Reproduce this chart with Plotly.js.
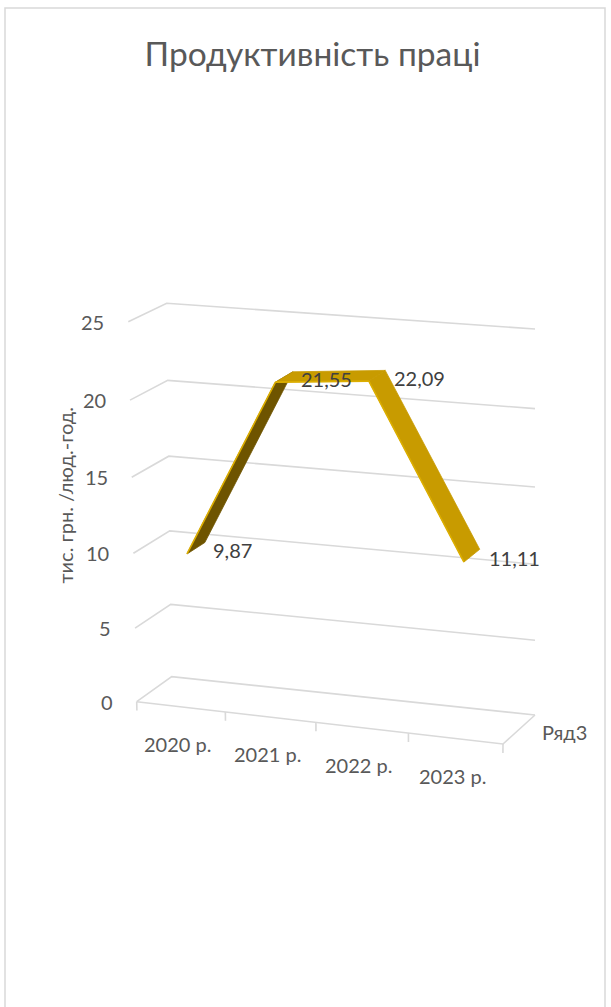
<!DOCTYPE html>
<html>
<head>
<meta charset="utf-8">
<script src="https://cdn.plot.ly/plotly-3.0.1.min.js"></script>
<style>html,body{margin:0;padding:0;background:#fff;}#chart{width:611px;height:1007px;}</style>
</head>
<body>
<div id="chart"></div>
<script>
// ---- data ----
const categories = ["2020 р.", "2021 р.", "2022 р.", "2023 р."];
const values = [9.87, 21.55, 22.09, 11.11];
const seriesName = "Ряд3";
const zTicks = [0, 5, 10, 15, 20, 25];
const chartTitle = "Продуктивність праці";
const yTitle = "тис. грн. /люд.-год.";

// ---- 3D-look projection (emulating Excel 3-D line chart) ----
const W = 611, H = 1007;
const zMax = zTicks[zTicks.length - 1];
const nCat = categories.length;
const box = {
  FLB: [136.7, 701.7], BLB: [171.7, 676.7], BRB: [535, 715], FRB: [503, 744],
  FLT: [128.3, 321.7], BLT: [166.7, 303.3], BRT: [535, 329], FRT: [506, 351]
};
const kx = 0.044, kz = 0.04;
const lerp = (a, b, t) => [a[0] + (b[0] - a[0]) * t, a[1] + (b[1] - a[1]) * t];
function P(x, d, z) {
  const u0 = (x + 0.5) / nCat, w0 = z / zMax, v = d + 0.5;
  const u = u0 / (1 + kx * (1 - u0));
  const w = w0 / (1 + kz * (1 - w0));
  const fb = lerp(box.FLB, box.FRB, u), bb = lerp(box.BLB, box.BRB, u);
  const ft = lerp(box.FLT, box.FRT, u), bt = lerp(box.BLT, box.BRT, u);
  const bot = lerp(fb, bb, v), top = lerp(ft, bt, v);
  return lerp(bot, top, w);
}

const gridColor = '#d9d9d9';
const txtColor = '#595959';
const fnt = "Lato, 'Noto Sans', sans-serif";
const topColor = '#c89b00', underColor = '#6e5400', edgeColor = '#dcae00';
const halfDepth = 0.25;

const traces = [];
function polyTrace(pts, color, width) {
  return {type: 'scatter', mode: 'lines', x: pts.map(p => p ? p[0] : null), y: pts.map(p => p ? p[1] : null),
    line: {color: color, width: width}, hoverinfo: 'skip', connectgaps: false};
}

// gridlines on left wall + back wall
const gridPts = [];
zTicks.forEach(t => {
  gridPts.push(P(-0.5, -0.5, t), P(-0.5, 0.5, t), P(nCat - 0.5, 0.5, t), null);
});
traces.push(polyTrace(gridPts, gridColor, 1.6));

// floor front edge, right edge and tick marks
const floorPts = [P(-0.5, -0.5, 0), P(nCat - 0.5, -0.5, 0), P(nCat - 0.5, 0.5, 0), null];
for (let b = 0; b <= nCat; b++) {
  floorPts.push(P(b - 0.5, -0.5, 0), P(b - 0.5, -0.5, -0.6), null);
}
traces.push(polyTrace(floorPts, gridColor, 1.6));

// ribbon segments built from the data
const xi = categories.map((c, i) => i);
const area = q => { let s = 0; for (let i = 0; i < q.length; i++) { const a = q[i], b = q[(i + 1) % q.length]; s += a[0] * b[1] - b[0] * a[1]; } return s; };
const segs = [];
for (let k = 0; k < nCat - 1; k++) {
  const q = [P(xi[k], -halfDepth, values[k]), P(xi[k + 1], -halfDepth, values[k + 1]),
             P(xi[k + 1], halfDepth, values[k + 1]), P(xi[k], halfDepth, values[k])];
  segs.push(q);
}
// reference orientation: a flat (top visible) ribbon
const refSign = Math.sign(area([P(0, -halfDepth, 1), P(1, -halfDepth, 1), P(1, halfDepth, 1), P(0, halfDepth, 1)]));
segs.forEach((q, k) => {
  const under = Math.sign(area(q)) !== refSign;
  const col = under ? underColor : topColor;
  traces.push({type: 'scatter', mode: 'lines', x: q.map(p => p[0]).concat([q[0][0]]), y: q.map(p => p[1]).concat([q[0][1]]),
    fill: 'toself', fillcolor: col, line: {color: col, width: 0.8}, hoverinfo: 'skip'});
  traces.push(polyTrace([q[0], q[1]], edgeColor, 1.6));
});

// ---- text ----
const fmt = v => v.toFixed(2).replace('.', ',');
const ann = [];
zTicks.forEach(t => { const p = P(-0.5, -0.5, t);
  ann.push({x: p[0], y: p[1], text: String(t), xanchor: 'right', yanchor: 'middle', xshift: -22,
    showarrow: false, font: {family: fnt, size: 20, color: txtColor}}); });
categories.forEach((c, i) => { const p = P(xi[i], -0.5, 0);
  ann.push({x: p[0], y: p[1], text: c, xanchor: 'center', yanchor: 'middle', xshift: -3, yshift: -37,
    showarrow: false, font: {family: fnt, size: 20, color: txtColor}}); });
values.forEach((v, i) => { const p = P(xi[i], 0, v);
  ann.push({x: p[0], y: p[1], text: fmt(v), xanchor: 'left', yanchor: 'middle', xshift: 15, yshift: -2,
    showarrow: false, font: {family: fnt, size: 20, color: '#404040'}}); });
{ const p = P(nCat - 0.5, 0, 0);
  ann.push({x: p[0], y: p[1], text: seriesName, xanchor: 'left', yanchor: 'middle', xshift: 21, yshift: -2.5,
    showarrow: false, font: {family: fnt, size: 20, color: txtColor}}); }
ann.push({xref: 'paper', yref: 'paper', x: 64 / W, y: 1 - 495.5 / H, text: yTitle, textangle: -90,
  xanchor: 'center', yanchor: 'middle', showarrow: false, font: {family: fnt, size: 20, color: txtColor}});

const layout = {
  width: W, height: H, margin: {l: 0, r: 0, t: 0, b: 0},
  paper_bgcolor: '#fff', plot_bgcolor: '#fff', showlegend: false, hovermode: false,
  title: {text: chartTitle, x: 312.5 / W, xanchor: 'center', y: 1 - 54 / H, yanchor: 'middle',
    font: {family: fnt, size: 33.5, color: txtColor}},
  xaxis: {range: [0, W], visible: false, fixedrange: true},
  yaxis: {range: [H, 0], visible: false, fixedrange: true},
  annotations: ann,
  shapes: [{type: 'rect', xref: 'paper', yref: 'paper', x0: 5 / W, x1: 605 / W, y0: -0.01, y1: 1 - 8 / H,
    line: {color: gridColor, width: 1.5}, fillcolor: 'rgba(0,0,0,0)'}]
};

Plotly.newPlot('chart', traces, layout, {displayModeBar: false, staticPlot: true});
</script>
</body>
</html>
